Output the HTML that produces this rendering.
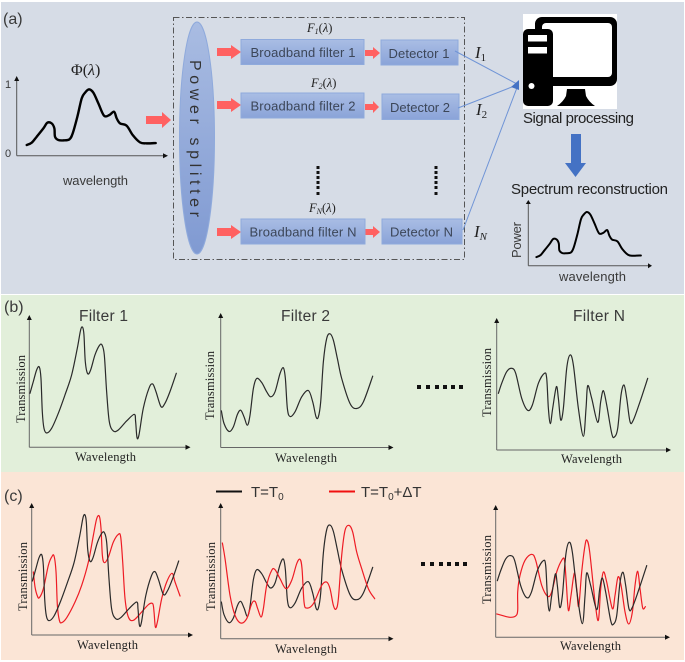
<!DOCTYPE html>
<html lang="en">
<head>
<meta charset="utf-8">
<title>Spectrometer schematic</title>
<style>
html,body{margin:0;padding:0;background:#fff;width:685px;height:662px;overflow:hidden}
svg{display:block;filter:blur(0.35px)}
text{font-family:"Liberation Sans","DejaVu Sans",sans-serif;fill:#3a3a3a}
.serif{font-family:"Liberation Serif",serif;fill:#222}
.math{font-family:"Liberation Serif",serif;font-style:italic;fill:#222}
.box{fill:url(#boxGrad);stroke:#8faadc;stroke-width:1}
.boxtext{font-size:13px;fill:#3c4658}
.redarrow{fill:#ff6161}
</style>
</head>
<body>
<svg id="figure" width="685" height="662" viewBox="0 0 685 662" xmlns="http://www.w3.org/2000/svg">
  <defs>
    <linearGradient id="boxGrad" x1="0" y1="0" x2="0" y2="1"><stop offset="0" stop-color="#a9bde4"/><stop offset="1" stop-color="#8aa3d8"/></linearGradient>
    <linearGradient id="ellGrad" x1="0" y1="0" x2="0" y2="1"><stop offset="0" stop-color="#a9bce2"/><stop offset="1" stop-color="#809ad2"/></linearGradient>
  </defs>
  <rect x="1" y="2" width="683" height="292" fill="#d6dce6"/>
  <rect x="1" y="295" width="683" height="177" fill="#e2efda"/>
  <rect x="1" y="472" width="683" height="188" fill="#fbe5d6"/>

  <text x="3" y="24" font-size="16">(a)</text>
  <text x="4" y="312" font-size="16">(b)</text>
  <text x="4" y="501" font-size="16">(c)</text>

  <rect x="173.5" y="17.5" width="291" height="242" fill="none" stroke="#555" stroke-width="1" stroke-dasharray="6 2.5 1.5 2.5"/>
  <ellipse cx="197" cy="138" rx="17.5" ry="116" fill="url(#ellGrad)" stroke="#8faadc"/>
  <text transform="translate(190,60) rotate(90)" font-size="16" textLength="157" fill="#333" style="fill:#333">Power splitter</text>

  <text class="serif" x="71" y="75" font-size="16">Φ(<tspan font-style="italic">λ</tspan>)</text>
  <text x="5" y="88" font-size="11" fill="#555">1</text>
  <text x="5" y="157" font-size="11" fill="#555">0</text>
  <text x="63" y="185" font-size="13" textLength="65">wavelength</text>

  <polygon class="redarrow" points="146,116 162,116 162,112 171,120 162,128 162,124 146,124"/>
  <polygon class="redarrow" points="217,48 231,48 231,45 241,52 231,59 231,56 217,56"/>
  <polygon class="redarrow" points="217,101 231,101 231,98 241,105 231,112 231,109 217,109"/>
  <polygon class="redarrow" points="217,228 231,228 231,225 241,232 231,239 231,236 217,236"/>
  <polygon class="redarrow" points="365,50 373,50 373,47 380,53 373,59 373,56 365,56"/>
  <polygon class="redarrow" points="365,104 373,104 373,101 379,107 373,113 373,110 365,110"/>
  <polygon class="redarrow" points="365,229 373,229 373,226 380,232 373,238 373,235 365,235"/>

  <rect class="box" x="241" y="39.5" width="123" height="25"/>
  <rect class="box" x="241" y="93" width="123" height="25"/>
  <rect class="box" x="241" y="219" width="124" height="25"/>
  <text class="boxtext" x="250.5" y="57" textLength="105">Broadband filter 1</text>
  <text class="boxtext" x="250.5" y="110.5" textLength="105">Broadband filter 2</text>
  <text class="boxtext" x="249.5" y="236.5" textLength="107">Broadband filter N</text>

  <rect class="box" x="381" y="40" width="77" height="25"/>
  <rect class="box" x="382" y="94" width="77" height="25.5"/>
  <rect class="box" x="382" y="219" width="80" height="25"/>
  <text class="boxtext" x="388.5" y="58" textLength="61">Detector 1</text>
  <text class="boxtext" x="390" y="112" textLength="60">Detector 2</text>
  <text class="boxtext" x="390" y="236.5" textLength="63">Detector N</text>

  <text class="math" x="307" y="32" font-size="12.5">F<tspan font-size="8" dy="2">1</tspan><tspan dy="-2" font-style="normal">(</tspan>λ<tspan font-style="normal">)</tspan></text>
  <text class="math" x="311" y="87" font-size="12.5">F<tspan font-size="8" dy="2">2</tspan><tspan dy="-2" font-style="normal">(</tspan>λ<tspan font-style="normal">)</tspan></text>
  <text class="math" x="309" y="212" font-size="12.5">F<tspan font-size="8" dy="2">N</tspan><tspan dy="-2" font-style="normal">(</tspan>λ<tspan font-style="normal">)</tspan></text>

  <g fill="#111">
    <rect x="316.5" y="166" width="3" height="3"/><rect x="316.5" y="171" width="3" height="3"/><rect x="316.5" y="176" width="3" height="3"/><rect x="316.5" y="181" width="3" height="3"/><rect x="316.5" y="186" width="3" height="3"/><rect x="316.5" y="192" width="3" height="3"/>
  </g>
  <g fill="#111">
    <rect x="434.5" y="166" width="3" height="3"/><rect x="434.5" y="171" width="3" height="3"/><rect x="434.5" y="176" width="3" height="3"/><rect x="434.5" y="181" width="3" height="3"/><rect x="434.5" y="186" width="3" height="3"/><rect x="434.5" y="192" width="3" height="3"/>
  </g>

  <line x1="455" y1="51" x2="517" y2="84" stroke="#6f94d6" stroke-width="1"/>
  <line x1="458" y1="108" x2="517" y2="85" stroke="#6f94d6" stroke-width="1"/>
  <line x1="463" y1="230" x2="518" y2="85" stroke="#6f94d6" stroke-width="1"/>
  <polygon points="519,80 519,90 511,87" fill="#4472c4"/>
  <text class="math" x="475" y="58" font-size="17">I<tspan font-size="11" dy="3" font-style="normal">1</tspan></text>
  <text class="math" x="476" y="115" font-size="17">I<tspan font-size="11" dy="3" font-style="normal">2</tspan></text>
  <text class="math" x="474" y="237" font-size="17">I<tspan font-size="11" dy="3">N</tspan></text>

  <g>
    <rect x="523" y="14" width="94" height="95" fill="#fff"/>
    <rect x="535" y="17" width="82" height="69" rx="7" fill="#000"/>
    <rect x="542" y="23" width="70" height="54" rx="4" fill="#fff"/>
    <rect x="535" y="23" width="7" height="6" fill="#000"/>
    <rect x="523" y="29" width="30" height="77" rx="5" fill="#000"/>
    <rect x="528" y="35" width="19" height="6.5" fill="#fff"/>
    <rect x="528" y="47" width="19" height="6.5" fill="#fff"/>
    <circle cx="531.5" cy="86" r="3" fill="#fff"/>
    <path d="M567 89H585L586 96Q589 102 595 106H557Q563 102 566 96Z" fill="#000"/>
  </g>
  <text x="523" y="123" font-size="15" textLength="111" style="fill:#222">Signal processing</text>
  <polygon points="571,134 581,134 581,163 586,163 575.5,177 565,163 571,163" fill="#4472c4"/>
  <text x="511" y="194" font-size="15" textLength="157" style="fill:#222">Spectrum reconstruction</text>
  <text transform="translate(521,258) rotate(-90)" font-size="13" textLength="36">Power</text>
  <text x="559" y="281" font-size="13" textLength="67">wavelength</text>

  <text x="79" y="321" font-size="15.5" textLength="49">Filter 1</text>
  <text x="281" y="321" font-size="15.5" textLength="49">Filter 2</text>
  <text x="573" y="321" font-size="15.5" textLength="52">Filter N</text>

  <text class="serif" transform="translate(25,423) rotate(-90)" font-size="12.5" textLength="68">Transmission</text>
  <text class="serif" transform="translate(214,420) rotate(-90)" font-size="12.5" textLength="69">Transmission</text>
  <text class="serif" transform="translate(491,417) rotate(-90)" font-size="12.5" textLength="69">Transmission</text>
  <text class="serif" x="75" y="461" font-size="12.5" textLength="61">Wavelength</text>
  <text class="serif" x="275" y="462" font-size="12.5" textLength="62">Wavelength</text>
  <text class="serif" x="561" y="463" font-size="12.5" textLength="61">Wavelength</text>

  <text class="serif" transform="translate(27,611) rotate(-90)" font-size="12.5" textLength="69">Transmission</text>
  <text class="serif" transform="translate(215,611) rotate(-90)" font-size="12.5" textLength="69">Transmission</text>
  <text class="serif" transform="translate(491,604) rotate(-90)" font-size="12.5" textLength="69">Transmission</text>
  <text class="serif" x="77" y="649" font-size="12.5" textLength="61">Wavelength</text>
  <text class="serif" x="275" y="653" font-size="12.5" textLength="62">Wavelength</text>
  <text class="serif" x="560" y="650" font-size="12.5" textLength="61">Wavelength</text>

  <g fill="#111">
    <rect x="417" y="385" width="4" height="4"/><rect x="426" y="385" width="4" height="4"/><rect x="435" y="385" width="4" height="4"/><rect x="443" y="385" width="4" height="4"/><rect x="451" y="385" width="4" height="4"/><rect x="459" y="385" width="4" height="4"/>
  </g>
  <g fill="#111">
    <rect x="421" y="562" width="4" height="4"/><rect x="430" y="562" width="4" height="4"/><rect x="439" y="562" width="4" height="4"/><rect x="447" y="562" width="4" height="4"/><rect x="455" y="562" width="4" height="4"/><rect x="463" y="562" width="4" height="4"/>
  </g>

  <line x1="216" y1="491.5" x2="242" y2="491.5" stroke="#111" stroke-width="2"/>
  <text x="251" y="497" font-size="15" style="fill:#333">T=T<tspan font-size="10" dy="3">0</tspan></text>
  <line x1="329" y1="491.5" x2="355" y2="491.5" stroke="#f01010" stroke-width="2"/>
  <text x="361" y="497" font-size="15" style="fill:#333">T=T<tspan font-size="10" dy="3">0</tspan><tspan dy="-3">+ΔT</tspan></text>

  <g id="charts"></g>
</svg>
<script>
// Spectrum curve (arbitrary units)
const spectrumWavelength = [30,45,60,80,92,105,113,115,125,140,158,168,182,195,205,217,230,245,262,278,292,300,310,330,348,370,390,417];
const spectrumPower = [32,39,57,82,99,97,82,57,47,46,49,67,117,172,189,199,189,157,120,122,132,112,97,90,62,40,37,38];

// Filter transmission curves at T0
const filter1Wavelength = [2,12,22,30,35,39,44,52,67,87,107,127,144,154,160,164,168,175,184,197,210,218,225,232,240,252,267,292,315,319,323,329,342,359,370,380,395,407,422,441];
const filter1Transmission = [162,197,232,241,207,107,57,43,57,102,157,217,297,352,360,337,257,221,232,277,305,307,277,167,77,49,52,79,99,77,30,37,117,177,190,167,122,132,167,222];
const filter2Wavelength = [2,10,25,38,50,60,70,80,88,98,108,123,138,150,163,178,188,194,200,208,223,243,263,276,286,293,300,308,318,328,338,350,363,388,408,428,456];
const filter2Transmission = [110,72,48,62,99,112,92,67,97,177,207,195,167,152,167,222,239,207,117,93,107,152,171,137,92,92,137,257,327,341,322,267,207,132,117,137,214];
const filterNWavelength = [5,15,30,45,57,75,93,107,125,143,150,155,161,168,179,185,192,200,210,220,230,245,260,268,273,285,303,312,320,330,345,353,363,373,382,390,400,410,430,453];
const filterNTransmission = [170,200,235,245,230,155,119,135,200,230,215,125,79,125,190,155,90,125,245,285,255,125,41,125,193,155,83,145,178,135,50,39,65,165,195,155,85,90,145,215];

// Filter transmission curves at T0 + delta T
const shifted1Wavelength = [5,10,17,23,35,50,60,67,73,77,83,90,105,130,150,170,185,195,203,208,212,218,230,245,260,267,273,280,290,305,330,350,363,367,371,377,390,405,421,430,445];
const shifted1Transmission = [189,144,117,112,139,209,234,237,189,89,44,37,52,99,149,219,299,349,356,319,239,217,234,279,302,294,219,109,54,44,69,91,94,69,24,39,109,159,185,159,117];
const shifted2Wavelength = [5,13,28,43,60,78,93,103,111,121,128,138,153,163,178,196,213,228,238,244,250,258,278,303,318,328,338,346,353,363,373,385,396,408,423,443,462];
const shifted2Transmission = [287,240,130,70,47,60,105,112,90,65,90,160,205,207,180,150,175,225,238,210,110,92,105,160,170,150,100,89,120,250,325,340,320,260,210,150,120];
const shiftedNWavelength = [3,18,43,60,66,66,73,88,108,120,138,156,168,183,198,206,211,218,226,236,243,249,258,268,274,282,298,308,315,323,333,350,358,367,376,388,399,410,418,426,433,441,449];
const shiftedNTransmission = [70,66,60,64,81,136,186,231,249,231,156,123,136,196,231,233,176,81,126,193,146,93,196,276,291,256,106,51,146,196,166,86,126,181,156,76,40,76,156,198,146,88,92];

const svgNS = 'http://www.w3.org/2000/svg';
const chartsLayer = document.getElementById('charts');

function linearAxis(origin, unit) {
  return function (value) { return origin + value * unit; };
}

function smoothPath(xs, ys, xScale, yScale) {
  const pts = xs.map(function (v, i) { return [xScale(v), yScale(ys[i])]; });
  let d = 'M' + pts[0][0].toFixed(2) + ' ' + pts[0][1].toFixed(2);
  for (let i = 0; i < pts.length - 1; i++) {
    const p0 = pts[Math.max(i - 1, 0)];
    const p1 = pts[i];
    const p2 = pts[i + 1];
    const p3 = pts[Math.min(i + 2, pts.length - 1)];
    const c1x = p1[0] + (p2[0] - p0[0]) / 6;
    const c1y = p1[1] + (p2[1] - p0[1]) / 6;
    const c2x = p2[0] - (p3[0] - p1[0]) / 6;
    const c2y = p2[1] - (p3[1] - p1[1]) / 6;
    d += 'C' + c1x.toFixed(2) + ' ' + c1y.toFixed(2) + ' ' + c2x.toFixed(2) + ' ' + c2y.toFixed(2) + ' ' + p2[0].toFixed(2) + ' ' + p2[1].toFixed(2);
  }
  return d;
}

function drawAxes(group, ox, oy, xEnd, yTop, axisColor, headSize) {
  const yAxis = document.createElementNS(svgNS, 'line');
  
  
  yAxis.setAttribute('x1', ox);
  yAxis.setAttribute('y1', oy);
  yAxis.setAttribute('x2', ox);
  yAxis.setAttribute('y2', yTop + headSize);
  yAxis.setAttribute('stroke', axisColor);
  yAxis.setAttribute('stroke-width', '1');
  group.appendChild(yAxis);

  const xAxis = document.createElementNS(svgNS, 'line');
  
  
  xAxis.setAttribute('x1', ox);
  xAxis.setAttribute('y1', oy);
  xAxis.setAttribute('x2', xEnd - headSize);
  xAxis.setAttribute('y2', oy);
  xAxis.setAttribute('stroke', axisColor);
  xAxis.setAttribute('stroke-width', '1');
  group.appendChild(xAxis);

  const yHead = document.createElementNS(svgNS, 'polygon');
  
  
  yHead.setAttribute('points', ox + ',' + yTop + ' ' + (ox - 2.5) + ',' + (yTop + headSize) + ' ' + (ox + 2.5) + ',' + (yTop + headSize));
  yHead.setAttribute('fill', '#111');
  group.appendChild(yHead);

  const xHead = document.createElementNS(svgNS, 'polygon');
  
  
  xHead.setAttribute('points', xEnd + ',' + oy + ' ' + (xEnd - headSize) + ',' + (oy - 2.5) + ' ' + (xEnd - headSize) + ',' + (oy + 2.5));
  xHead.setAttribute('fill', '#111');
  group.appendChild(xHead);
}

function drawChart(config) {
  const group = document.createElementNS(svgNS, 'g');
  
  
  chartsLayer.appendChild(group);
  drawAxes(group, config.ox, config.oy, config.xEnd, config.yTop, config.axisColor || '#666', config.head || 5);
  const xScale = linearAxis(config.ox, config.unit);
  const yScale = linearAxis(config.oy, -config.unit);
  config.series.forEach(function (s) {
    const path = document.createElementNS(svgNS, 'path');
    
    
    path.setAttribute('d', smoothPath(s.x, s.y, xScale, yScale));
    path.setAttribute('fill', 'none');
    path.setAttribute('stroke', s.color);
    path.setAttribute('stroke-width', s.width);
    path.setAttribute('stroke-linecap', 'round');
    path.setAttribute('stroke-linejoin', 'round');
    group.appendChild(path);
  });
}

const third = 1 / 3;
const blackPen = '#2a2a2a';
const redPen = '#ee1c25';

drawChart({label: 'input-spectrum-chart', ox: 16.7, oy: 155.7, xEnd: 168, yTop: 76, unit: third, axisColor: '#555', series: [
  {label: 'input-spectrum-curve', x: spectrumWavelength, y: spectrumPower, color: '#000', width: 2.4}
]});
drawChart({label: 'output-spectrum-chart', ox: 528.3, oy: 265.7, xEnd: 652, yTop: 200, unit: 0.27, axisColor: '#555', head: 4, series: [
  {label: 'output-spectrum-curve', x: spectrumWavelength, y: spectrumPower, color: '#000', width: 2}
]});
drawChart({label: 'filter-1-chart', ox: 29.3, oy: 447.3, xEnd: 190.5, yTop: 315, unit: third, series: [
  {label: 'filter-1-curve', x: filter1Wavelength, y: filter1Transmission, color: blackPen, width: 1.2}
]});
drawChart({label: 'filter-2-chart', ox: 220.7, oy: 447.5, xEnd: 393.5, yTop: 313, unit: third, series: [
  {label: 'filter-2-curve', x: filter2Wavelength, y: filter2Transmission, color: blackPen, width: 1.2}
]});
drawChart({label: 'filter-n-chart', ox: 496.7, oy: 450, xEnd: 671, yTop: 318, unit: third, series: [
  {label: 'filter-n-curve', x: filterNWavelength, y: filterNTransmission, color: blackPen, width: 1.2}
]});
drawChart({label: 'thermal-1-chart', ox: 31.7, oy: 635, xEnd: 193, yTop: 503, unit: third, series: [
  {label: 'thermal-1-shifted-curve', x: shifted1Wavelength, y: shifted1Transmission, color: redPen, width: 1.2},
  {label: 'thermal-1-base-curve', x: filter1Wavelength, y: filter1Transmission, color: blackPen, width: 1.2}
]});
drawChart({label: 'thermal-2-chart', ox: 220.7, oy: 638.7, xEnd: 393.5, yTop: 503, unit: third, series: [
  {label: 'thermal-2-base-curve', x: filter2Wavelength, y: filter2Transmission, color: blackPen, width: 1.2},
  {label: 'thermal-2-shifted-curve', x: shifted2Wavelength, y: shifted2Transmission, color: redPen, width: 1.2}
]});
drawChart({label: 'thermal-n-chart', ox: 495.7, oy: 637.3, xEnd: 670, yTop: 505, unit: third, series: [
  {label: 'thermal-n-shifted-curve', x: shiftedNWavelength, y: shiftedNTransmission, color: redPen, width: 1.2},
  {label: 'thermal-n-base-curve', x: filterNWavelength, y: filterNTransmission, color: blackPen, width: 1.2}
]});
</script>
</body>
</html>
